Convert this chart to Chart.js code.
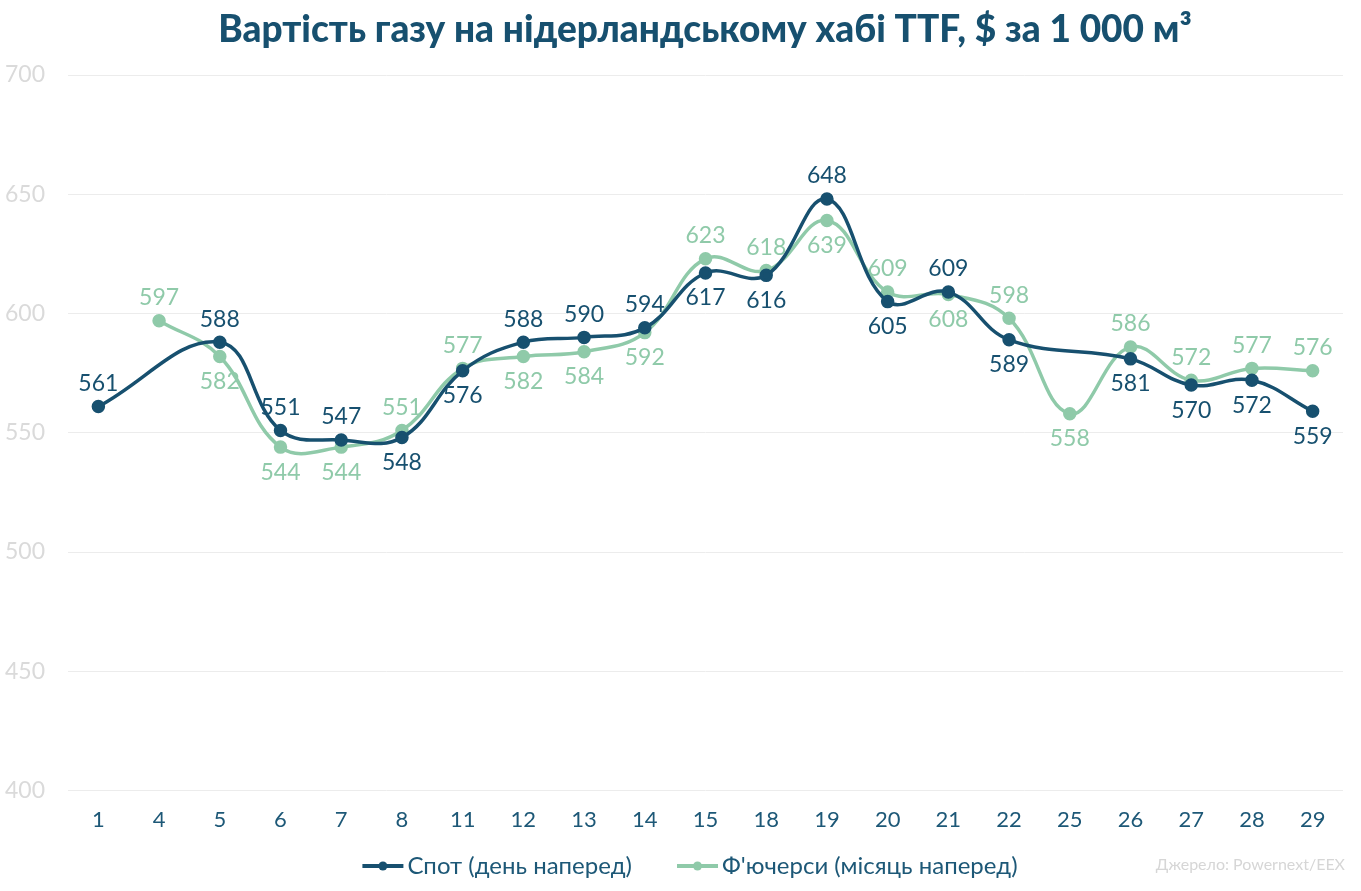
<!DOCTYPE html>
<html lang="uk">
<head>
    <meta charset="UTF-8">
    <title>Вартість газу на нідерландському хабі TTF</title>
    <script src="https://cdn.jsdelivr.net/npm/chart.js"></script>
    <style>
        html, body { margin: 0; padding: 0; background: #ffffff; }
        .chart-container { width: 1361px; height: 891px; position: relative; }
    </style>
</head>
<body>
    <div class="chart-container">
        <canvas id="gasChart"></canvas>
    </div>

    <script>
        // Chart data
        const days = ['1', '4', '5', '6', '7', '8', '11', '12', '13', '14', '15', '18', '19', '20', '21', '22', '25', '26', '27', '28', '29'];
        const spotPrices = [561, null, 588, 551, 547, 548, 576, 588, 590, 594, 617, 616, 648, 605, 609, 589, null, 581, 570, 572, 559];
        const futuresPrices = [null, 597, 582, 544, 544, 551, 577, 582, 584, 592, 623, 618, 639, 609, 608, 598, 558, 586, 572, 577, 576];
        const yTicks = [400, 450, 500, 550, 600, 650, 700];

        const TITLE = 'Вартість газу на нідерландському хабі TTF, $ за 1 000 м³';
        const SOURCE = 'Джерело: Powernext/EEX';
        const SPOT_COLOR = '#17506f';
        const FUT_COLOR = '#8fcaa9';
        const TEXT_COLOR = '#1d5877';
        const FONT = 'Lato, "Open Sans", sans-serif';

        // decide whether a label goes above or below its point
        function labelAbove(own, other, i) {
            if (other[i] != null) return own[i] >= other[i];
            const prev = own.slice(0, i).reverse().find(v => v != null);
            const next = own.slice(i + 1).find(v => v != null);
            if (prev != null && next != null && own[i] < prev && own[i] < next) return false;
            return true;
        }

        const valueLabels = {
            id: 'valueLabels',
            afterDatasetsDraw(chart) {
                const ctx = chart.ctx;
                const series = chart.data.datasets.map(d => d.data);
                ctx.save();
                ctx.font = '23px ' + FONT;
                ctx.textAlign = 'center';
                ctx.textBaseline = 'middle';
                chart.data.datasets.forEach((ds, di) => {
                    const meta = chart.getDatasetMeta(di);
                    const other = series[1 - di];
                    ctx.fillStyle = ds.borderColor;
                    meta.data.forEach((pt, i) => {
                        const v = ds.data[i];
                        if (v == null) return;
                        const up = labelAbove(ds.data, other, i);
                        ctx.fillText(String(v), pt.x, up ? pt.y - 23 : pt.y + 25);
                    });
                });
                ctx.restore();
            }
        };

        // title, bottom legend (line + dot markers) and source note
        const decorations = {
            id: 'decorations',
            afterDraw(chart) {
                const ctx = chart.ctx;
                ctx.save();
                ctx.textBaseline = 'middle';

                ctx.font = '900 37px ' + FONT;
                ctx.fillStyle = SPOT_COLOR;
                ctx.textAlign = 'center';
                ctx.fillText(TITLE, 705, 30);

                ctx.font = '24px ' + FONT;
                ctx.textAlign = 'left';
                const markW = 41, markGap = 4, itemGap = 45, ly = 866;
                const items = chart.data.datasets.map(ds => ({
                    text: ds.label, color: ds.borderColor,
                    w: markW + markGap + ctx.measureText(ds.label).width
                }));
                const total = items.reduce((s, it) => s + it.w, 0) + itemGap * (items.length - 1);
                let x = 690 - total / 2;
                items.forEach(it => {
                    ctx.strokeStyle = it.color;
                    ctx.lineWidth = 4;
                    ctx.beginPath(); ctx.moveTo(x, ly); ctx.lineTo(x + markW, ly); ctx.stroke();
                    ctx.fillStyle = it.color;
                    ctx.beginPath(); ctx.arc(x + markW / 2, ly, 4.5, 0, Math.PI * 2); ctx.fill();
                    ctx.fillStyle = TEXT_COLOR;
                    ctx.fillText(it.text, x + markW + markGap, ly);
                    x += it.w + itemGap;
                });

                ctx.font = '16px ' + FONT;
                ctx.fillStyle = '#d6d6d6';
                ctx.textAlign = 'right';
                ctx.fillText(SOURCE, 1345, 865);
                ctx.restore();
            }
        };

        new Chart(document.getElementById('gasChart'), {
            type: 'line',
            data: {
                labels: days,
                datasets: [
                    {
                        label: 'Спот (день наперед)',
                        data: spotPrices,
                        borderColor: SPOT_COLOR,
                        backgroundColor: SPOT_COLOR,
                        borderWidth: 3.5,
                        pointRadius: 5,
                        pointHoverRadius: 5,
                        tension: 0.4,
                        spanGaps: true
                    },
                    {
                        label: "Ф'ючерси (місяць наперед)",
                        data: futuresPrices,
                        borderColor: FUT_COLOR,
                        backgroundColor: FUT_COLOR,
                        borderWidth: 3.5,
                        pointRadius: 5,
                        pointHoverRadius: 5,
                        tension: 0.4,
                        spanGaps: true
                    }
                ]
            },
            options: {
                responsive: true,
                maintainAspectRatio: false,
                animation: false,
                layout: { padding: { left: 0, right: 18, top: 75, bottom: 50 } },
                scales: {
                    x: {
                        offset: true,
                        grid: { display: false },
                        border: { display: false },
                        ticks: { color: TEXT_COLOR, font: { family: FONT, size: 22 }, padding: 8 }
                    },
                    y: {
                        min: 400,
                        max: 700,
                        afterBuildTicks(axis) { axis.ticks = yTicks.map(v => ({ value: v })); },
                        afterFit(axis) { axis.width = 68; },
                        grid: { color: '#ececec', lineWidth: 1, drawTicks: false },
                        border: { display: false },
                        ticks: { color: '#dadada', font: { family: FONT, size: 23 }, padding: 23 }
                    }
                },
                plugins: {
                    title: { display: false },
                    legend: { display: false },
                    tooltip: { enabled: false }
                }
            },
            plugins: [valueLabels, decorations]
        });
    </script>
</body>
</html>
